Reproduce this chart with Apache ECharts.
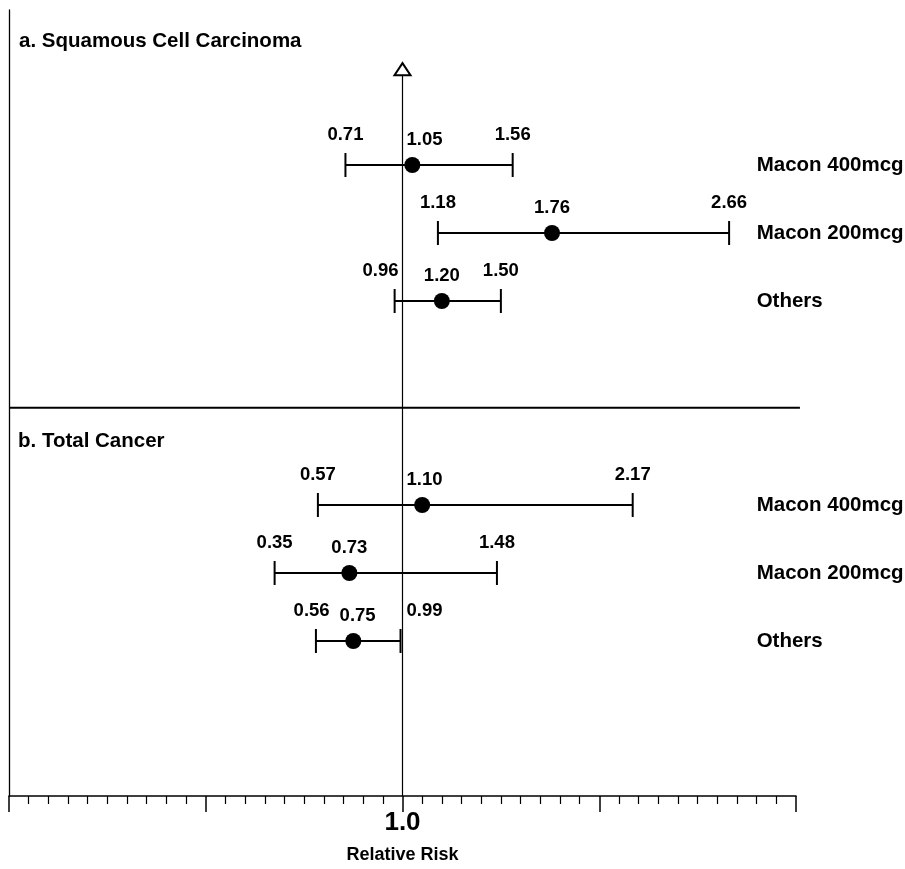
<!DOCTYPE html>
<html>
<head>
<meta charset="utf-8">
<script src="https://cdn.jsdelivr.net/npm/echarts@6/dist/echarts.min.js"></script>
<style>
  html, body { margin: 0; padding: 0; background: #fff; }
  #chart { width: 905px; height: 869px; }
</style>
</head>
<body>
<div id="chart"></div>
<script>
// panel titles and row names
const panelTitles = ["a. Squamous Cell Carcinoma", "b. Total Cancer"];
const rowNames = ["Macon 400mcg", "Macon 200mcg", "Others"];

// a. squamous cell carcinoma
const sccRR = [1.05, 1.76, 1.20];
const sccLower = [0.71, 1.18, 0.96];
const sccUpper = [1.56, 2.66, 1.50];

// b. total cancer
const totalRR = [1.10, 0.73, 0.75];
const totalLower = [0.57, 0.35, 0.56];
const totalUpper = [2.17, 1.48, 0.99];

// row slots on the (hidden) y scale
const sccRows = [1, 2, 3];
const totalRows = [6, 7, 8];
const dividerRow = 4.57;
const arrowRow = -0.41;

// x axis: only the reference value is labelled
const xTickLabels = { 1: "1.0" };
const refValue = 1;
const rowNameX = 2.8;

const FONT = '"Liberation Sans", Arial, Helvetica, sans-serif';

const rows = [];
sccRows.forEach((r, i) => rows.push([r, sccLower[i], sccRR[i], sccUpper[i], rowNames[i]]));
totalRows.forEach((r, i) => rows.push([r, totalLower[i], totalRR[i], totalUpper[i], rowNames[i]]));

const chart = echarts.init(document.getElementById("chart"), null, { renderer: "canvas" });

function labelText(x, y, text, size) {
  return {
    type: "text",
    style: {
      x: x, y: y, text: text,
      fill: "#000",
      font: "bold " + size + "px " + FONT,
      align: "center",
      verticalAlign: "middle",
    },
  };
}

// keep a number label off the 1.0 line
function nudge(cx, lineX, side) {
  const half = 18, gap = 4;
  if (Math.abs(cx - lineX) < half + gap) {
    return side > 0 ? lineX + half + gap : lineX - half - gap;
  }
  return cx;
}

function renderRow(params, api) {
  const y = api.value(0);
  const lo = api.value(1), rr = api.value(2), hi = api.value(3);
  const name = rows[params.dataIndex][4];
  const pLo = api.coord([lo, y]);
  const pHi = api.coord([hi, y]);
  const pRR = api.coord([rr, y]);
  const lineX = api.coord([refValue, y])[0];
  const pName = api.coord([rowNameX, y]);
  const cap = 12;
  const stroke = { stroke: "#000", lineWidth: 2 };
  const fmt = (v) => v.toFixed(2);

  let xLo = nudge(pLo[0], lineX, -1);
  let xHi = nudge(pHi[0], lineX, 1);
  let xRR = nudge(pRR[0], lineX, rr >= refValue ? 1 : -1);
  // spread crowded labels apart
  const minGap = 46;
  if (xRR - xLo < minGap) {
    const d = (minGap - (xRR - xLo)) / 2;
    xLo -= d; xRR += d;
  }
  if (xHi - xRR < minGap) {
    const d = (minGap - (xHi - xRR)) / 2;
    xRR -= d; xHi += d;
  }

  return {
    type: "group",
    children: [
      { type: "line", shape: { x1: pLo[0], y1: pLo[1], x2: pHi[0], y2: pHi[1] }, style: stroke },
      { type: "line", shape: { x1: pLo[0], y1: pLo[1] - cap, x2: pLo[0], y2: pLo[1] + cap }, style: stroke },
      { type: "line", shape: { x1: pHi[0], y1: pHi[1] - cap, x2: pHi[0], y2: pHi[1] + cap }, style: stroke },
      { type: "circle", shape: { cx: pRR[0], cy: pRR[1], r: 8 }, style: { fill: "#000" } },
      labelText(xLo, pLo[1] - 30, fmt(lo), 18.5),
      labelText(xHi, pHi[1] - 30, fmt(hi), 18.5),
      labelText(xRR, pRR[1] - 25, fmt(rr), 18.5),
      {
        type: "text",
        style: {
          x: pName[0], y: pName[1], text: name, fill: "#000",
          font: "bold 20.5px " + FONT, align: "left", verticalAlign: "middle",
        },
      },
    ],
  };
}

// the 1.0 line with its open arrow head, plus the panel divider
function renderRef(params, api) {
  const top = api.coord([refValue, api.value(0)]);
  const cs = params.coordSys;
  const bottom = cs.y + cs.height;
  const dL = api.coord([-1, dividerRow]);
  const dR = api.coord([3.02, dividerRow]);
  const w = 8, h = 12;
  return {
    type: "group",
    children: [
      { type: "line", shape: { x1: dL[0], y1: dL[1], x2: dR[0], y2: dR[1] }, style: { stroke: "#000", lineWidth: 2 } },
      { type: "line", shape: { x1: top[0], y1: top[1], x2: top[0], y2: bottom }, style: { stroke: "#000", lineWidth: 1.2 } },
      {
        type: "polygon",
        shape: { points: [[top[0], top[1] - h / 2], [top[0] - w, top[1] + h / 2], [top[0] + w, top[1] + h / 2]] },
        style: { fill: "#fff", stroke: "#000", lineWidth: 2 },
      },
    ],
  };
}

const titleStyle = { fontSize: 20.5, fontWeight: "bold", fontFamily: FONT, color: "#000" };

const option = {
  backgroundColor: "#fff",
  animation: false,
  title: [
    { text: panelTitles[0], left: 19, top: 31, padding: 0, textStyle: titleStyle },
    { text: panelTitles[1], left: 18, top: 431, padding: 0, textStyle: titleStyle },
  ],
  grid: { left: 9, right: 109, top: 10, bottom: 73, containLabel: false },
  xAxis: {
    type: "value",
    min: -1,
    max: 3,
    interval: 1,
    name: "Relative Risk",
    nameLocation: "middle",
    nameGap: 50,
    nameTextStyle: { fontSize: 18, fontWeight: "bold", fontFamily: FONT, color: "#000" },
    axisLine: { show: true, onZero: false, lineStyle: { color: "#000", width: 1.5 } },
    axisTick: { show: true, length: 16, lineStyle: { color: "#000", width: 1.5 } },
    minorTick: { show: true, splitNumber: 10, length: 8, lineStyle: { color: "#000", width: 1.2 } },
    axisLabel: {
      margin: 14,
      fontSize: 26,
      fontWeight: "bold",
      fontFamily: FONT,
      color: "#000",
      formatter: (v) => xTickLabels[v] || "",
    },
    splitLine: { show: false },
  },
  yAxis: {
    type: "value",
    inverse: true,
    min: -1.28,
    max: 10.28,
    axisLine: { show: true, onZero: false, lineStyle: { color: "#000", width: 1.3 } },
    axisTick: { show: false },
    axisLabel: { show: false },
    splitLine: { show: false },
  },
  series: [
    {
      type: "custom",
      renderItem: renderRef,
      data: [[arrowRow]],
      encode: { y: 0 },
      clip: false,
      silent: true,
    },
    {
      type: "custom",
      renderItem: renderRow,
      data: rows.map((r) => r.slice(0, 4)),
      encode: { x: [1, 2, 3], y: 0 },
      silent: true,
    },
  ],
};

chart.setOption(option);
</script>
</body>
</html>
